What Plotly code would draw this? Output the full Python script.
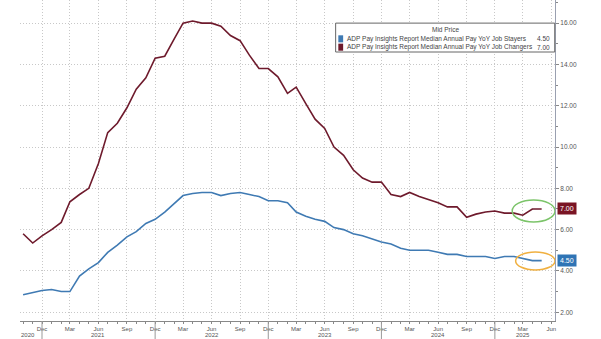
import pandas as pd
import plotly.graph_objects as go

dates = pd.date_range("2020-10-01", periods=56, freq="MS")

job_changers = [5.8, 5.35, 5.7, 6.0, 6.35, 7.35, 7.7, 8.0, 9.2, 10.7, 11.15, 11.9,
                12.8, 13.35, 14.3, 14.4, 15.25, 16.0, 16.1, 16.0, 16.0, 15.85, 15.4, 15.15,
                14.45, 13.8, 13.8, 13.4, 12.6, 12.9, 12.1, 11.35, 10.9, 10.0, 9.6, 8.9,
                8.5, 8.3, 8.3, 7.7, 7.6, 7.8, 7.6, 7.45, 7.3, 7.1, 7.1, 6.6,
                6.75, 6.85, 6.9, 6.8, 6.8, 6.7, 7.0, 7.0]

job_stayers = [2.85, 2.95, 3.05, 3.1, 3.0, 3.0, 3.75, 4.1, 4.4, 4.9, 5.25, 5.65,
               5.9, 6.3, 6.5, 6.85, 7.25, 7.65, 7.75, 7.8, 7.8, 7.65, 7.75, 7.8,
               7.7, 7.6, 7.4, 7.4, 7.3, 6.85, 6.65, 6.5, 6.4, 6.1, 6.0, 5.8,
               5.7, 5.55, 5.4, 5.3, 5.1, 5.0, 5.0, 5.0, 4.9, 4.8, 4.8, 4.7,
               4.7, 4.7, 4.6, 4.7, 4.7, 4.6, 4.5, 4.5]

series_names = ["ADP Pay Insights Report Median Annual Pay YoY Job Stayers",
                "ADP Pay Insights Report Median Annual Pay YoY Job Changers"]
last_values = ["4.50", "7.00"]

tick_dates = pd.date_range("2020-12-01", "2025-06-01", freq="QS-DEC")
tick_text = [d.strftime("%b") for d in tick_dates]
year_labels = ["2020", "2021", "2022", "2023", "2024", "2025"]
year_label_dates = ["2020-10-16", "2021-06-01", "2022-06-01", "2023-06-01", "2024-06-01", "2025-03-01"]
year_sep_dates = ["2020-12-01", "2021-12-01", "2022-12-01", "2023-12-01", "2024-12-01"]
y_ticks = [2, 4, 6, 8, 10, 12, 14, 16]

RED = "#6e1a2c"
BLUE = "#3f7ab3"
FONT = "Liberation Sans"
GRID = "#c8c8c8"

fig = go.Figure()
fig.add_trace(go.Scatter(x=dates, y=job_changers, mode="lines",
                         line=dict(color=RED, width=1.6), name=series_names[1]))
fig.add_trace(go.Scatter(x=dates, y=job_stayers, mode="lines",
                         line=dict(color=BLUE, width=1.6), name=series_names[0]))

fig.update_layout(
    width=601, height=339,
    margin=dict(l=20, r=46, t=0, b=18),
    paper_bgcolor="white", plot_bgcolor="white",
    showlegend=False,
    font=dict(family=FONT, size=6, color="#555555"),
)

fig.update_xaxes(
    range=["2020-09-21", "2025-06-13"],
    tickvals=tick_dates, ticktext=tick_text,
    showgrid=True, gridcolor=GRID, griddash="1px,2px", gridwidth=1,
    showline=True, linecolor="#888888", linewidth=1,
    ticks="outside", ticklen=2, tickcolor="#888888",
    tickfont=dict(size=6, color="#555555", family=FONT),
    ticklabelstandoff=0,
    minor=dict(dtick="M1", ticks="outside", ticklen=2, tickcolor="#888888", showgrid=False),
    zeroline=False,
)

fig.update_yaxes(
    range=[1.575, 17.12], side="right",
    tickvals=y_ticks, ticktext=[f"{v:.2f}" for v in y_ticks],
    showgrid=True, gridcolor=GRID, griddash="1px,2px", gridwidth=1,
    showline=True, linecolor="#9aa0b0", linewidth=1,
    ticks="outside", ticklen=3, tickcolor="#888888",
    tickfont=dict(size=6.5, color="#555555", family=FONT),
    minor=dict(dtick=1, ticks="outside", ticklen=2, tickcolor="#888888", showgrid=False),
    zeroline=False,
)

# year separators and labels
for d in year_sep_dates:
    fig.add_shape(type="line", xref="x", yref="paper", x0=d, x1=d, y0=0, y1=-0.06,
                  line=dict(color="#999999", width=1))
for lbl, d in zip(year_labels, year_label_dates):
    fig.add_annotation(x=d, xref="x", y=-0.043, yref="paper", text=lbl, showarrow=False,
                       yanchor="middle", xanchor="center",
                       font=dict(size=6, color="#555555", family=FONT))

# legend box
fig.add_shape(type="rect", xref="paper", yref="paper", x0=0.590, x1=0.9995, y0=0.838, y1=0.928,
              line=dict(color="#666666", width=1), fillcolor="white", layer="above")
fig.add_annotation(xref="paper", yref="paper", x=0.795, y=0.925, text="Mid Price",
                   showarrow=False, xanchor="center", yanchor="top",
                   font=dict(size=6.5, color="#444444", family=FONT))
legend_rows = [(0.879, BLUE, series_names[0], last_values[0]),
               (0.853, RED, series_names[1], last_values[1])]
for yy, col, nm, val in legend_rows:
    fig.add_shape(type="rect", xref="paper", yref="paper", x0=0.595, x1=0.604,
                  y0=yy - 0.011, y1=yy + 0.011, fillcolor=col, line=dict(width=0), layer="above")
    fig.add_annotation(xref="paper", yref="paper", x=0.607, y=yy, text=nm, showarrow=False,
                       xanchor="left", yanchor="middle",
                       font=dict(size=6.5, color="#444444", family=FONT))
    fig.add_annotation(xref="paper", yref="paper", x=0.995, y=yy, text=val, showarrow=False,
                       xanchor="right", yanchor="middle",
                       font=dict(size=6.5, color="#444444", family=FONT))

# last value tags
fig.add_annotation(xref="paper", x=1.003, y=job_changers[-1], yref="y", text=last_values[1],
                   showarrow=False, xanchor="left", yanchor="middle", bgcolor="#7a1424",
                   font=dict(size=7, color="white", family=FONT), borderpad=2)
fig.add_annotation(xref="paper", x=1.003, y=job_stayers[-1], yref="y", text=last_values[0],
                   showarrow=False, xanchor="left", yanchor="middle", bgcolor="#2f74b5",
                   font=dict(size=7, color="white", family=FONT), borderpad=2)

# highlight ellipses
fig.add_shape(type="circle", xref="x", yref="y", x0="2025-01-26", x1="2025-06-13",
              y0=6.37, y1=7.44, line=dict(color="#7cc46a", width=1.5))
fig.add_shape(type="circle", xref="x", yref="y", x0="2025-02-06", x1="2025-06-13",
              y0=4.05, y1=4.92, line=dict(color="#f0b040", width=1.5))

fig.write_html("out.html")
